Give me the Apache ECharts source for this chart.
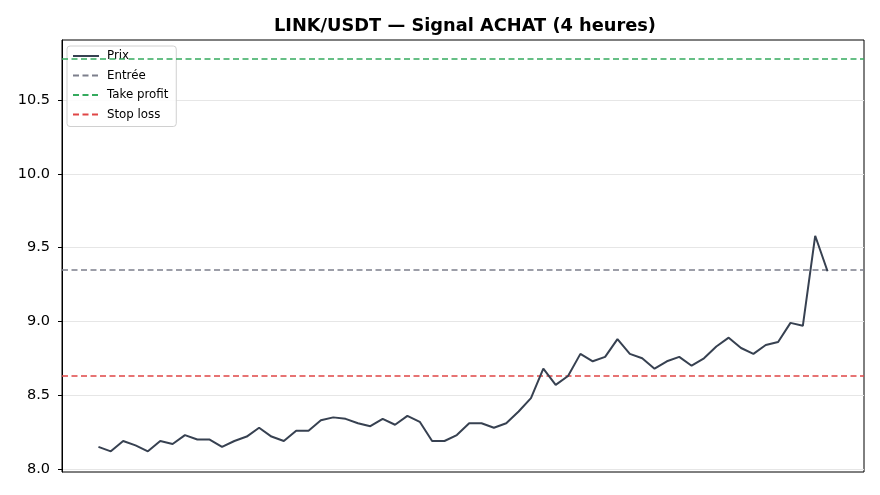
<!DOCTYPE html>
<html lang="fr">
<head>
    <meta charset="UTF-8">
    <title>LINK/USDT</title>
    <script src="https://cdn.jsdelivr.net/npm/echarts@6/dist/echarts.min.js"></script>
    <style>
        html, body { margin: 0; padding: 0; background: #fff; }
    </style>
</head>
<body>
<div id="chart" style="width: 880px;height:495px"></div>
<script>
    // cours LINK/USDT en bougies 4h
    var prix = [8.15, 8.12, 8.19, 8.16, 8.12, 8.19, 8.17, 8.23, 8.20, 8.20,
        8.15, 8.19, 8.22, 8.28, 8.22, 8.19, 8.26, 8.26, 8.33, 8.35,
        8.34, 8.31, 8.29, 8.34, 8.30, 8.36, 8.32, 8.19, 8.19, 8.23,
        8.31, 8.31, 8.28, 8.31, 8.39, 8.48, 8.68, 8.57, 8.63, 8.78,
        8.73, 8.76, 8.88, 8.78, 8.75, 8.68, 8.73, 8.76, 8.70, 8.75,
        8.83, 8.89, 8.82, 8.78, 8.84, 8.86, 8.99, 8.97, 9.58, 9.34];
    var entree = 9.345;
    var takeProfit = 10.78;
    var stopLoss = 8.625;
    var yTicks = [8.0, 8.5, 9.0, 9.5, 10.0, 10.5];
    var seriesNames = ['Prix', 'Entrée', 'Take profit', 'Stop loss'];
    var colors = ['#374151', '#7c7f8c', '#35ab5e', '#e04646'];

    var chart = echarts.init(document.getElementById('chart'));
    var font = 'DejaVu Sans';

    var points = prix.map(function (v, i) { return [i, v]; });
    var n = prix.length - 1;
    var yMin = 7.98, yMax = 10.906;

    function niveau(name, value, color) {
        return {
            name: name,
            type: 'line',
            symbol: 'none',
            data: [],
            lineStyle: { color: color, type: [6, 3.5], width: 1.5 },
            itemStyle: { color: color },
            silent: true,
            markLine: {
                silent: true,
                symbol: 'none',
                label: { show: false },
                lineStyle: { color: color, type: [6, 3.5], width: 1.5 },
                data: [{ yAxis: value }]
            }
        };
    }

    var option = {
        backgroundColor: '#ffffff',
        animation: false,
        textStyle: { fontFamily: font },
        title: {
            text: 'LINK/USDT — Signal ACHAT (4 heures)',
            left: 460,
            top: 12,
            textAlign: 'center',
            textStyle: { fontFamily: font, fontSize: 17.8, fontWeight: 'bold', color: '#000' }
        },
        legend: {
            orient: 'vertical',
            left: 67,
            top: 46,
            padding: [4, 8, 6, 5],
            itemWidth: 26,
            itemHeight: 12,
            itemGap: 7.5,
            backgroundColor: 'rgba(255,255,255,0.85)',
            borderColor: '#d0d0d0',
            borderWidth: 1,
            borderRadius: 3,
            itemStyle: { opacity: 0 },
            textStyle: { fontFamily: font, fontSize: 11.8, color: '#000', padding: [0, 0, 0, 3] },
            data: seriesNames
        },
        grid: {
            show: true,
            left: 62,
            right: 16,
            top: 40,
            bottom: 23,
            borderColor: '#000',
            borderWidth: 1,
            backgroundColor: 'transparent'
        },
        xAxis: {
            type: 'value',
            min: -0.05 * n,
            max: n + 0.05 * n,
            axisLine: { show: false },
            axisTick: { show: false },
            axisLabel: { show: false },
            splitLine: { show: false }
        },
        yAxis: {
            type: 'value',
            min: yMin,
            max: yMax,
            axisLine: { show: true, onZero: false, lineStyle: { color: '#000' } },
            axisTick: { show: true, length: 4, customValues: yTicks, lineStyle: { color: '#000' } },
            axisLabel: {
                customValues: yTicks,
                color: '#000',
                fontSize: 14.5,
                margin: 12,
                fontFamily: font,
                formatter: function (v) { return v.toFixed(1); }
            },
            splitLine: { show: true, lineStyle: { color: '#e6e6e6', width: 1 } }
        },
        series: [{
            name: 'Prix',
            type: 'line',
            symbol: 'none',
            data: points,
            lineStyle: { color: colors[0], width: 2 },
            itemStyle: { color: colors[0] },
            z: 5
        },
            niveau('Entrée', entree, colors[1]),
            niveau('Take profit', takeProfit, colors[2]),
            niveau('Stop loss', stopLoss, colors[3])
        ]
    };

    chart.setOption(option);
</script>
</body>
</html>
